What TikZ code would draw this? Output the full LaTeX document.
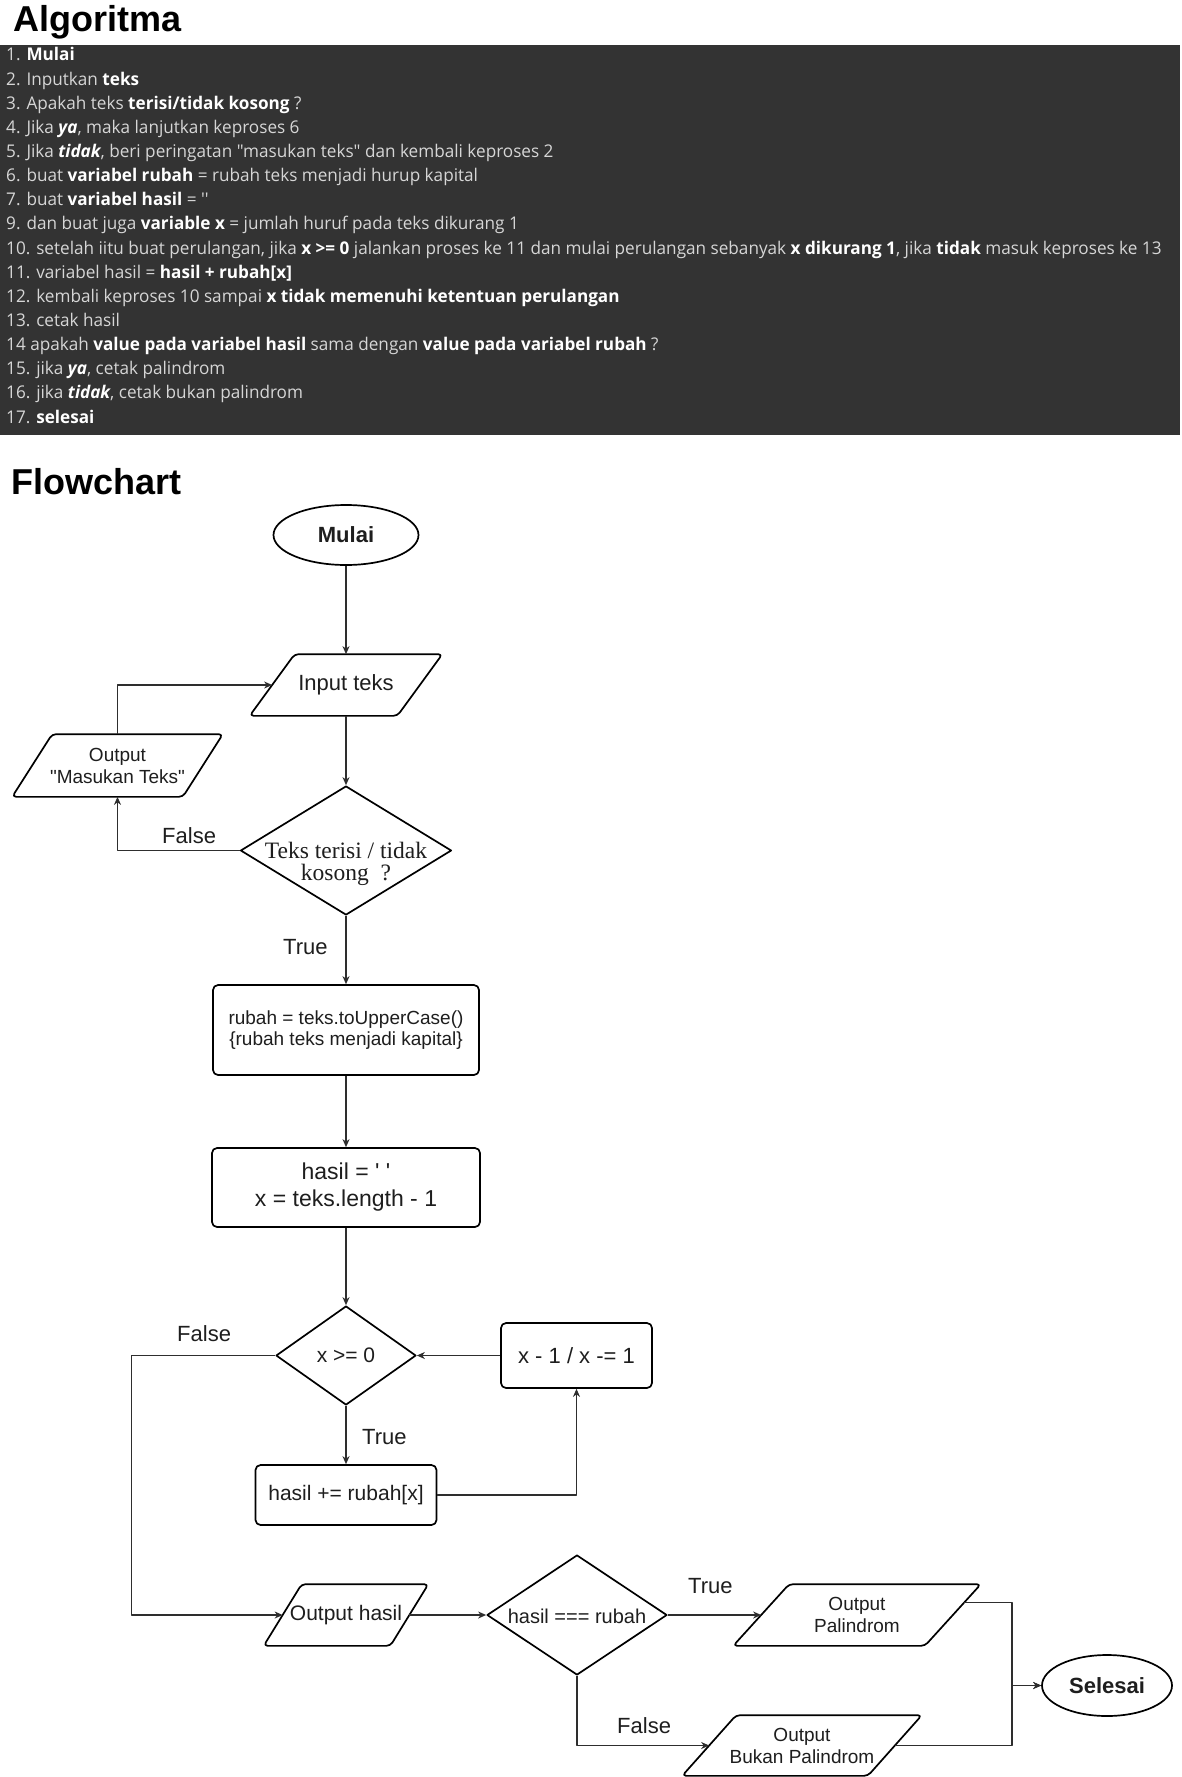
\documentclass[tikz,border=0pt]{standalone}
\usepackage{fontspec}
\setmainfont{Liberation Sans}[Ligatures=TeXOff]
\newfontfamily\algfont{Open Sans}[FakeStretch=0.98,Ligatures=TeXOff]
\newfontfamily\serifdec{Liberation Serif}[Ligatures=TeXOff]
\usetikzlibrary{shapes.geometric,calc,arrows.meta}
\definecolor{panel}{HTML}{333333}
\definecolor{algtext}{HTML}{D6D6D6}
\definecolor{ink}{HTML}{1E1E1E}
\definecolor{wire}{HTML}{2E2E2E}
% bold (and bold italic) highlights inside the algorithm list
\newcommand\hb[1]{{\bfseries\color{white}#1}}
\newcommand\hbi[1]{{\bfseries\itshape\color{white}#1}}
\newcommand\fsz[2]{\fontsize{#1}{#2}\selectfont}
\newcommand\lowered[1]{\raisebox{-3pt}{#1}}
% outline of an input/output parallelogram around an invisible node
\newcommand\slantbox[2]{%
  \draw[shapeline,rounded corners=4pt]
    ($(#1.north west)+(#2,0)$) -- ($(#1.north east)+(#2,0)$) --
    ($(#1.south east)-(#2,0)$) -- ($(#1.south west)-(#2,0)$) -- cycle;}
\begin{document}
\begin{tikzpicture}[x=1pt,y=-1pt,line join=round,
  shapeline/.style={draw=black,line width=1.7pt},
  conn/.style={draw=wire,line width=1.2pt},
  arr/.style={conn,-{Stealth[length=8pt,width=7pt,inset=2.5pt]}},
  procbox/.style={shapeline,rectangle,rounded corners=5pt,inner sep=0pt,align=center,text=ink},
  decision/.style={shapeline,diamond,inner sep=0pt},
  dectext/.style={text=ink,align=center,inner sep=0pt},
  terminal/.style={shapeline,ellipse,inner sep=0pt,text=ink,font=\bfseries\fsz{22}{26}},
  iobody/.style={inner sep=0pt,outer sep=0.85pt,align=center,text=ink},
  flowlabel/.style={anchor=base west,inner sep=0pt,text=ink,font=\fsz{22}{26}},
  algline/.style={anchor=base west,inner sep=0pt,text=algtext,font=\algfont\fsz{17.5}{20}},
  heading/.style={anchor=base west,inner sep=0pt,text=black,font=\bfseries\fsz{36}{40}},
]
\fill[white] (0,0) rectangle (1182,1777);
\useasboundingbox (0,0) rectangle (1182,1777);

% ---------- algorithm ----------
\node[heading] (algtitle) at (13,32) {Algoritma};
\fill[panel] (0,45) rectangle (1180,435);
\node[algline] (a1)  at (6,61.0)  {1. \hb{Mulai}};
\node[algline] (a2)  at (6,85.1)  {2. Inputkan \hb{teks}};
\node[algline] (a3)  at (6,109.3) {3. Apakah teks \hb{terisi/tidak kosong} ?};
\node[algline] (a4)  at (6,133.4) {4. Jika \hbi{ya}, maka lanjutkan keproses 6};
\node[algline] (a5)  at (6,157.5) {5. Jika \hbi{tidak}, beri peringatan "masukan teks" dan kembali keproses 2};
\node[algline] (a6)  at (6,181.7) {6. buat \hb{variabel rubah} = rubah teks menjadi hurup kapital};
\node[algline] (a7)  at (6,205.8) {7. buat \hb{variabel hasil} = ''};
\node[algline] (a9)  at (6,229.9) {9. dan buat juga \hb{variable x} = jumlah huruf pada teks dikurang 1};
\node[algline] (a10) at (6,254.0) {10. setelah iitu buat perulangan, jika \hb{x >= 0} jalankan proses ke 11 dan mulai perulangan sebanyak \hb{x dikurang 1}, jika \hb{tidak} masuk keproses ke 13};
\node[algline] (a11) at (6,278.2) {11. variabel hasil = \hb{hasil + rubah[x]}};
\node[algline] (a12) at (6,302.3) {12. kembali keproses 10 sampai \hb{x tidak memenuhi ketentuan perulangan}};
\node[algline] (a13) at (6,326.4) {13. cetak hasil};
\node[algline] (a14) at (6,350.6) {14 apakah \hb{value pada variabel hasil} sama dengan \hb{value pada variabel rubah} ?};
\node[algline] (a15) at (6,374.7) {15. jika \hbi{ya}, cetak palindrom};
\node[algline] (a16) at (6,398.8) {16. jika \hbi{tidak}, cetak bukan palindrom};
\node[algline] (a17) at (6,423.0) {17. \hb{selesai}};

% ---------- flowchart ----------
\node[heading] (flowtitle) at (11,494) {Flowchart};

\node[terminal, minimum width=145pt, minimum height=60pt] (start) at (346,535) {Mulai};
\node[iobody, minimum width=146pt, minimum height=60pt, font=\fsz{22}{26}] (inp) at (346,685) {\lowered{Input teks}};
\slantbox{inp}{22.5}
\node[iobody, minimum width=169pt, minimum height=61pt, font=\fsz{19}{22}] (warn) at (117.5,765.5) {Output\\"Masukan Teks"};
\slantbox{warn}{20}
\node[decision, minimum width=211pt, minimum height=129pt] (chk) at (346,850.5) {};
\node[dectext, font=\serifdec\fsz{23.5}{22}] (chktext) at (346,864) {Teks terisi / tidak\\kosong\ \ ?};

\node[procbox, minimum width=266pt, minimum height=90pt, font=\fsz{19}{21}] (upper) at (346,1030) {rubah = teks.toUpperCase()\\\{rubah teks menjadi kapital\}};
\node[procbox, minimum width=268pt, minimum height=79pt, font=\fsz{23}{27}] (init) at (346,1187.5) {hasil = ' '\\x = teks.length - 1};

\node[decision, minimum width=140pt, minimum height=99pt] (loop) at (346,1355.5) {};
\node[dectext, font=\fsz{21}{24}] (looptext) at (346,1355.5) {x >= 0};
\node[procbox, minimum width=151pt, minimum height=65pt, font=\fsz{22}{26}] (dec) at (576.5,1355.5) {x - 1 / x -= 1};
\node[procbox, minimum width=181pt, minimum height=60pt, font=\fsz{21}{24}] (acc) at (346,1495) {\lowered{hasil += rubah[x]}};

\node[iobody, minimum width=125pt, minimum height=60pt, font=\fsz{21}{24}] (outh) at (346,1615) {\lowered{Output hasil}};
\slantbox{outh}{19}
\node[decision, minimum width=180pt, minimum height=120pt] (same) at (577,1615) {};
\node[dectext, font=\fsz{20}{24}] (sametext) at (577,1616) {hasil === rubah};
\node[iobody, minimum width=190pt, minimum height=60pt, font=\fsz{19}{22}] (pal) at (857,1615) {Output\\Palindrom};
\slantbox{pal}{28}
\node[iobody, minimum width=184pt, minimum height=59pt, font=\fsz{19}{22}] (npal) at (802,1745.5) {Output\\Bukan Palindrom};
\slantbox{npal}{27}
\node[terminal, minimum width=130pt, minimum height=61pt] (stop) at (1107,1685.5) {Selesai};

% connectors
\draw[arr] (start.south) -- (inp.north);
\draw[arr] (inp.south) -- (chk.north);
\draw[arr] (chk.west) -| (warn.south);
\draw[arr] (warn.north) |- (inp.west);
\draw[arr] (chk.south) -- (upper.north);
\draw[arr] (upper.south) -- (init.north);
\draw[arr] (init.south) -- (loop.north);
\draw[arr] (loop.south) -- (acc.north);
\draw[arr] (acc.east) -| (dec.south);
\draw[arr] (dec.west) -- (loop.east);
\coordinate (exitx) at (131.5,1355.5);
\draw[arr] (loop.west) -- (exitx) |- (outh.west);
\draw[arr] (outh.east) -- (same.west);
\draw[arr] (same.east) -- (pal.west);
\draw[arr] (same.south) |- (npal.west);
\coordinate (joinx) at (1012,1685.5);
\coordinate (palout) at ($(pal.east)+(11.5,-12.3)$);
\draw[arr] (palout) -| (joinx) -- (stop.west);
\draw[arr] (npal.east) -| (joinx) -- (stop.west);

% branch labels
\node[flowlabel] (lf1) at (162,843) {False};
\node[flowlabel] (lt1) at (283,954) {True};
\node[flowlabel] (lf2) at (177,1341) {False};
\node[flowlabel] (lt2) at (362,1444) {True};
\node[flowlabel] (lt3) at (688,1593) {True};
\node[flowlabel] (lf3) at (617,1733) {False};
\end{tikzpicture}
\end{document}
